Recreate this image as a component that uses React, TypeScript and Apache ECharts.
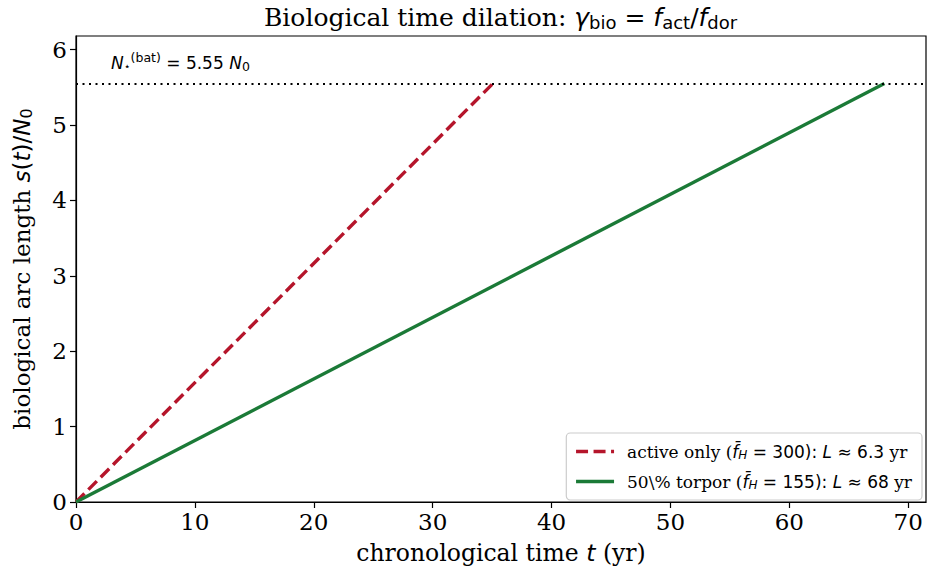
import React, { useEffect, useRef } from "react";
import * as echarts from "echarts";

const seriesNames = ["active", "torpor"];
const activeLine = [[0, 0], [35.07, 5.55]];
const torporLine = [[0, 0], [68.0, 5.55]];
const threshold = 5.55;
const xTicks = [0, 10, 20, 30, 40, 50, 60, 70];
const yTicks = [0, 1, 2, 3, 4, 5, 6];

const SERIF = "DejaVu Serif";
const SANS = "DejaVu Sans";

export default function App() {
  const ref = useRef<HTMLDivElement>(null);
  useEffect(() => {
    const chart = echarts.init(ref.current!, null, { renderer: "svg" });
    const option: any = {
      animation: false,
      title: {
        text: "{s|Biological time dilation: }{i|γ}{sub|bio}{m| = }{i|f}{sub|act}{m|/}{i|f}{sub|dor}",
        left: 259,
        top: -2,
        textStyle: {
          fontWeight: "normal",
          rich: {
            s: { fontFamily: SERIF, fontSize: 25, fontWeight: "normal", color: "#000" },
            m: { fontFamily: SANS, fontSize: 25, fontWeight: "normal", color: "#000" },
            i: { fontFamily: SANS, fontStyle: "italic", fontWeight: "normal", fontSize: 25, color: "#000" },
            sub: { fontFamily: SANS, fontSize: 18, fontWeight: "normal", color: "#000", padding: [10, 0, 0, 0] },
          },
        },
      },
      grid: {
        left: 76,
        right: 1,
        top: 36,
        bottom: 77,
        show: true,
        borderColor: "#000",
        borderWidth: 1.2,
        containLabel: false,
      },
      xAxis: {
        type: "value",
        min: 0,
        max: 71.5,
        interval: 10,
        name: "{s|chronological time }{i|t}{s| (yr)}",
        nameLocation: "middle",
        nameGap: 39,
        nameTextStyle: {
          rich: {
            s: { fontFamily: SERIF, fontSize: 23.5, color: "#000" },
            i: { fontFamily: SANS, fontStyle: "italic", fontSize: 23.5, color: "#000" },
          },
        },
        axisLine: { show: true, onZero: false, lineStyle: { color: "#000", width: 1.2 } },
        axisTick: { show: true, length: 6, lineStyle: { color: "#000", width: 1.2 } },
        axisLabel: {
          fontFamily: SERIF,
          fontSize: 23,
          color: "#000",
          margin: 8,
          showMaxLabel: false,
          formatter: (v: number) => (xTicks.includes(v) ? String(v) : ""),
        },
        splitLine: { show: false },
      },
      yAxis: {
        type: "value",
        min: 0,
        max: 6.18,
        interval: 1,
        name: "{s|biological arc length }{i|s}{m|(}{i|t}{m|)/}{i|N}{sub|0}",
        nameLocation: "middle",
        nameGap: 42,
        nameRotate: 90,
        nameTextStyle: {
          rich: {
            s: { fontFamily: SERIF, fontSize: 23, color: "#000" },
            m: { fontFamily: SANS, fontSize: 23, color: "#000" },
            i: { fontFamily: SANS, fontStyle: "italic", fontSize: 23, color: "#000" },
            sub: { fontFamily: SANS, fontSize: 16, color: "#000", padding: [9, 0, 0, 0] },
          },
        },
        axisLine: { show: true, lineStyle: { color: "#000", width: 1.2 } },
        axisTick: { show: true, length: 6, lineStyle: { color: "#000", width: 1.2 } },
        axisLabel: {
          fontFamily: SERIF,
          fontSize: 23,
          color: "#000",
          margin: 9,
          showMaxLabel: false,
          formatter: (v: number) => (yTicks.includes(v) ? String(v) : ""),
        },
        splitLine: { show: false },
      },
      legend: {
        right: 5,
        bottom: 79,
        orient: "vertical",
        backgroundColor: "#fff",
        borderColor: "#ccc",
        borderWidth: 1.2,
        borderRadius: 4,
        padding: [10, 10, 9, 8],
        itemGap: 12,
        itemWidth: 38,
        itemHeight: 14,
        itemStyle: { opacity: 0, borderWidth: 0 },
        lineStyle: { width: 3.5 },
        data: seriesNames,
        formatter: (name: string) =>
          name === "active"
            ? "{s|active only (}{i|f̄}{sub|H}{m| = 300): }{i|L}{m| ≈ 6.3 }{s|yr}"
            : "{s|50\\% torpor (}{i|f̄}{sub|H}{m| = 155): }{i|L}{m| ≈ 68 }{s|yr}",
        textStyle: {
          padding: [0, 0, 0, 8],
          rich: {
            s: { fontFamily: SERIF, fontSize: 17, color: "#000" },
            m: { fontFamily: SANS, fontSize: 17, color: "#000" },
            i: { fontFamily: SANS, fontStyle: "italic", fontSize: 17, color: "#000" },
            sub: { fontFamily: SANS, fontStyle: "italic", fontSize: 12, color: "#000", padding: [7, 0, 0, 0] },
          },
        },
      },
      graphic: [
        {
          type: "text",
          left: 111,
          top: 51,
          style: {
            text: "{i|N}{sub|⋆}{sup|(bat)}{m| = 5.55 }{i|N}{sub2|0}",
            rich: {
              i: { fontFamily: SANS, fontStyle: "italic", fontSize: 17, color: "#000" },
              m: { fontFamily: SANS, fontSize: 17, color: "#000" },
              sub: { fontFamily: SANS, fontSize: 11, color: "#000", padding: [8, 0, 0, 0] },
              sup: { fontFamily: SANS, fontSize: 12.5, color: "#000", padding: [0, 0, 10, 0] },
              sub2: { fontFamily: SANS, fontSize: 12.5, color: "#000", padding: [7, 0, 0, 0] },
            },
          },
        },
      ],
      series: [
        {
          name: "active",
          type: "line",
          data: activeLine,
          symbol: "none",
          color: "#b5152b",
          lineStyle: { color: "#b5152b", width: 3.4, type: [12, 5.5] },
          markLine: {
            silent: true,
            symbol: "none",
            label: { show: false },
            lineStyle: { color: "#000", width: 1.8, type: [2, 4.5] },
            data: [{ yAxis: threshold }],
          },
        },
        {
          name: "torpor",
          type: "line",
          data: torporLine,
          symbol: "none",
          color: "#1b7a37",
          lineStyle: { color: "#1b7a37", width: 3.4, type: "solid" },
        },
      ],
    };
    chart.setOption(option);
    return () => chart.dispose();
  }, []);
  return <div ref={ref} style={{ width: 927, height: 579, position: "absolute", left: 0, top: 0 }} />;
}
